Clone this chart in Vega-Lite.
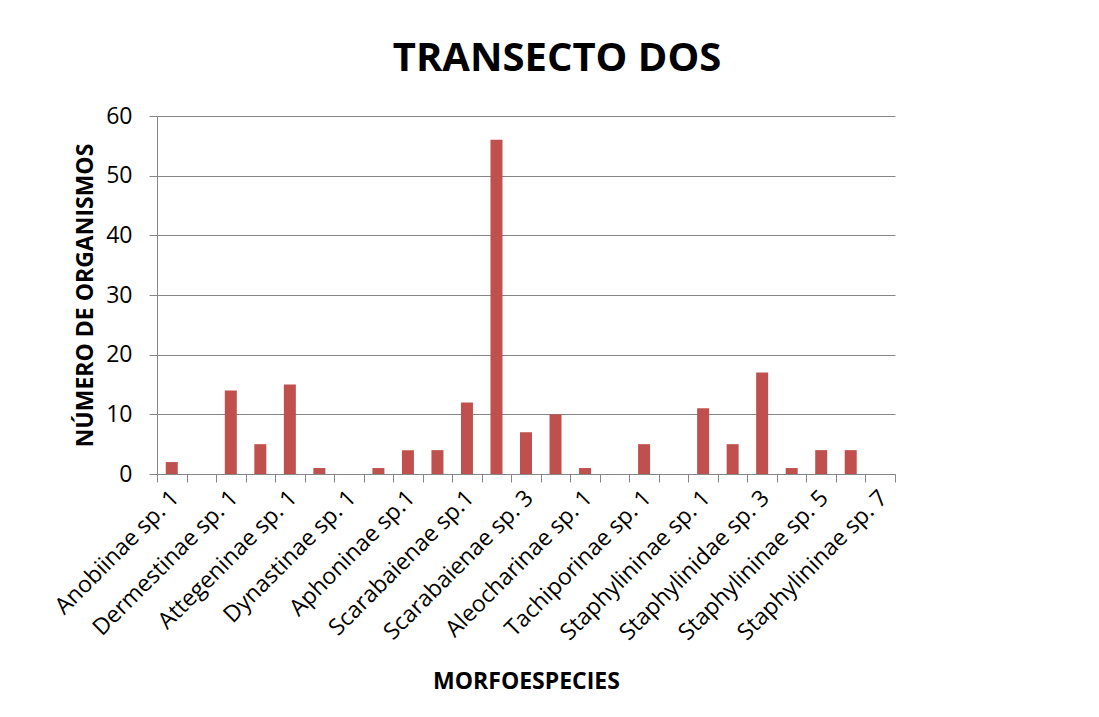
{
  "$schema": "https://vega.github.io/schema/vega-lite/v6.json",
  "width": 738,
  "height": 358,
  "autosize": {"type": "none"},
  "padding": {"left": 157, "top": 116, "right": 204, "bottom": 243},
  "background": "white",
  "title": {
    "text": "TRANSECTO DOS",
    "font": "Open Sans",
    "fontSize": 40,
    "fontWeight": "bold",
    "color": "black",
    "anchor": "middle",
    "dx": 31,
    "baseline": "alphabetic",
    "offset": -6
  },
  "data": {
    "values": [
      {"especie": "Anobiinae sp. 1", "n": 2},
      {"especie": "Anobiinae sp. 2", "n": 0},
      {"especie": "Dermestinae sp. 1", "n": 14},
      {"especie": "Dermestinae sp. 2", "n": 5},
      {"especie": "Attegeninae sp. 1", "n": 15},
      {"especie": "Attegeninae sp. 2", "n": 1},
      {"especie": "Dynastinae sp. 1", "n": 0},
      {"especie": "Dynastinae sp. 2", "n": 1},
      {"especie": "Aphoninae sp.1", "n": 4},
      {"especie": "Aphoninae sp.2", "n": 4},
      {"especie": "Scarabaienae sp.1", "n": 12},
      {"especie": "Scarabaienae sp. 2", "n": 56},
      {"especie": "Scarabaienae sp. 3", "n": 7},
      {"especie": "Scarabaienae sp. 4", "n": 10},
      {"especie": "Aleocharinae sp. 1", "n": 1},
      {"especie": "Aleocharinae sp. 2", "n": 0},
      {"especie": "Tachiporinae sp. 1", "n": 5},
      {"especie": "Tachiporinae sp. 2", "n": 0},
      {"especie": "Staphylininae sp. 1", "n": 11},
      {"especie": "Staphylininae sp. 2", "n": 5},
      {"especie": "Staphylinidae sp. 3", "n": 17},
      {"especie": "Staphylininae sp. 4", "n": 1},
      {"especie": "Staphylininae sp. 5", "n": 4},
      {"especie": "Staphylininae sp. 6", "n": 4},
      {"especie": "Staphylininae sp. 7", "n": 0}
    ]
  },
  "mark": {"type": "bar", "color": "#C0504D", "size": 12},
  "encoding": {
    "x": {
      "field": "especie",
      "type": "nominal",
      "sort": null,
      "scale": {"paddingInner": 0, "paddingOuter": 0},
      "axis": {
        "title": "MORFOESPECIES",
        "titleFont": "Open Sans",
        "titleFontSize": 23,
        "titleFontWeight": "bold",
        "titleColor": "black",
        "titlePadding": 26,
        "labelFont": "Open Sans",
        "labelFontSize": 23,
        "labelColor": "black",
        "labelAngle": -45,
        "labelAlign": "right",
        "labelBaseline": "middle",
        "labelPadding": 12,
        "labelOffset": 3,
        "labelOverlap": false,
        "labelLimit": 400,
        "labelExpr": "round(datum.index * 24) % 2 == 0 ? datum.value : ''",
        "tickBand": "extent",
        "tickSize": 8,
        "tickColor": "#868686",
        "domainColor": "#868686",
        "grid": false
      }
    },
    "y": {
      "field": "n",
      "type": "quantitative",
      "scale": {"domain": [0, 60]},
      "axis": {
        "title": "NÚMERO DE ORGANISMOS",
        "titleFont": "Open Sans",
        "titleFontSize": 23,
        "titleFontWeight": "bold",
        "titleColor": "black",
        "titlePadding": 8,
        "labelFont": "Open Sans",
        "labelFontSize": 23,
        "labelColor": "black",
        "labelPadding": 17,
        "values": [0, 10, 20, 30, 40, 50, 60],
        "tickSize": 8,
        "tickColor": "#868686",
        "domainColor": "#868686",
        "gridColor": "#868686",
        "gridWidth": 1
      }
    }
  },
  "config": {"view": {"stroke": null}}
}
